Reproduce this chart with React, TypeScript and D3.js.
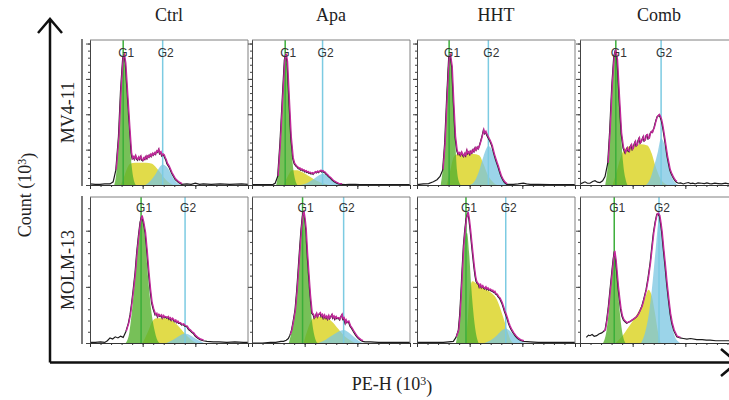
import React, { useEffect, useRef } from "react";
import * as d3 from "d3";

type Pt = [number, number];

// --- labels ---
const COLUMNS = ["Ctrl", "Apa", "HHT", "Comb"];
const ROWS = ["MV4-11", "MOLM-13"];

// G1 / G2 marker positions (PE-H channel units, 0-300)
const G1_MARK = [
  [63, 63, 61, 68],
  [97, 96, 93, 65],
];
const G2_MARK = [
  [138, 134, 135.5, 154],
  [180.5, 174, 168.5, 150],
];

// --- MV4-11 ---
const mv4CtrlHist: Pt[] = [[0,0.03],[10,0.02],[19,0.02],[28,0.03],[38,0.03],[44,0.09],[49,0.42],[54,1.36],[58,2.68],[62,3.58],[64.5,3.67],[67,3.44],[71,2.49],[75,1.55],[78,0.9],[80,0.74],[82,0.79],[84,0.72],[86,0.82],[88,0.74],[90,0.7],[92,0.78],[94,0.72],[96,0.8],[98,0.7],[100,0.68],[102,0.76],[104,0.72],[106,0.8],[108,0.74],[110,0.82],[112,0.78],[114,0.85],[116,0.8],[118,0.88],[120,0.84],[122,0.9],[124,0.86],[126,0.95],[128,0.92],[130,1.0],[132,0.88],[134,0.92],[136,0.82],[138,0.86],[140,0.84],[142,0.76],[144,0.7],[146,0.6],[149.5,0.52],[155,0.33],[161.5,0.16],[168,0.07],[174,0.02],[184,0.03],[192,0.02],[200,0.05],[208,0.02],[215,0.03],[230,0.02],[247,0.03],[265,0.02],[288,0.03],[300,0.02]];
const mv4CtrlG1: Pt[] = [[46,0],[50,0.35],[54,1.3],[58,2.6],[62,3.55],[64,3.65],[67,3.3],[71,2.3],[75,1.3],[79,0.55],[83,0.15],[87,0]];
const mv4CtrlS: Pt[] = [[58,0],[64,0.2],[70,0.45],[76,0.6],[86,0.63],[100,0.63],[112,0.62],[120,0.58],[128,0.45],[136,0.3],[144,0.15],[152,0.05],[158,0]];
const mv4CtrlG2: Pt[] = [[105,0],[115,0.12],[125,0.32],[132,0.5],[138,0.58],[145,0.52],[152,0.37],[158,0.2],[164,0.08],[170,0.02],[175,0]];

const mv4ApaHist: Pt[] = [[0,0.01],[15,0.01],[31,0.01],[40,0.02],[44,0.05],[48.7,0.24],[53,1.18],[57.6,2.49],[61.4,3.53],[64,3.7],[66.5,3.48],[69.7,2.49],[73.5,1.36],[77.3,0.75],[80,0.6],[82,0.56],[84,0.52],[86,0.5],[88,0.46],[90,0.47],[92,0.42],[94,0.44],[96,0.4],[98,0.41],[100,0.37],[102,0.39],[104,0.35],[106,0.36],[108,0.33],[110,0.34],[112,0.31],[114,0.33],[116,0.3],[118,0.34],[120,0.36],[122,0.34],[124,0.38],[126,0.35],[128,0.38],[130,0.4],[132,0.37],[134,0.39],[136,0.36],[138,0.35],[140,0.31],[142.5,0.28],[145,0.24],[149,0.19],[152,0.14],[156,0.09],[160,0.06],[164,0.03],[170,0.02],[177,0.01],[185,0.02],[196,0.02],[205,0.01],[215,0.01],[240,0.01],[270,0.01],[300,0.01]];
const mv4ApaG1: Pt[] = [[46,0],[50,0.4],[54,1.3],[58,2.6],[61,3.45],[63.5,3.7],[66.5,3.4],[70,2.4],[74,1.25],[78,0.5],[82,0.15],[86,0]];
const mv4ApaS: Pt[] = [[60,0],[68,0.25],[76,0.42],[86,0.42],[96,0.36],[106,0.27],[116,0.18],[126,0.1],[136,0.04],[146,0]];
const mv4ApaG2: Pt[] = [[92,0],[105,0.06],[118,0.18],[128,0.28],[134,0.32],[142,0.27],[150,0.17],[158,0.09],[166,0.04],[175,0]];

const mv4HhtHist: Pt[] = [[0,0.01],[12,0.03],[22,0.04],[31,0.09],[38,0.15],[43.7,0.24],[48.7,0.42],[52.5,1.18],[56.4,2.49],[60.2,3.62],[62.7,3.67],[65.9,3.34],[69,2.31],[72.2,1.36],[75.3,0.97],[78,0.86],[80,0.9],[82,0.83],[84,0.92],[86,0.85],[88,0.8],[90,0.88],[92,0.82],[94,0.97],[96,0.88],[98,0.93],[100,0.86],[102,0.95],[104,0.9],[106,0.99],[108,0.94],[110,1.04],[112,0.98],[114,1.06],[116,1.02],[118,1.1],[120,1.2],[122,1.3],[124,1.42],[126,1.55],[128,1.45],[130,1.5],[132,1.42],[134,1.36],[136,1.3],[138,1.25],[140,1.18],[142,1.1],[144,0.98],[146.3,0.85],[149,0.72],[151.4,0.61],[154,0.5],[156.4,0.38],[159,0.26],[162.8,0.14],[166,0.07],[170.4,0.02],[183,0.02],[192,0.03],[202,0.05],[208,0.03],[214.7,0.02],[230,0.02],[252.7,0.01],[290,0.01],[300,0.01]];
const mv4HhtG1: Pt[] = [[45,0],[49,0.45],[53,1.2],[56,2.4],[60,3.55],[62.5,3.65],[66,3.2],[69,2.2],[73,1.1],[76,0.4],[80,0.08],[83,0]];
const mv4HhtS: Pt[] = [[56,0],[63,0.4],[70,0.8],[78,0.88],[92,0.88],[106,0.88],[118,0.84],[126,0.6],[134,0.3],[142,0.12],[148,0.03],[152,0]];
const mv4HhtG2: Pt[] = [[100,0],[110,0.12],[118,0.4],[126,0.8],[135.5,1.1],[142,1.0],[148,0.75],[155,0.45],[162,0.18],[168,0.05],[173,0]];

const mv4CombHist: Pt[] = [[0,0.03],[5,0.06],[9.5,0.09],[14,0.05],[19,0.05],[24,0.1],[28.5,0.12],[33,0.08],[38,0.07],[43,0.12],[47.5,0.24],[52.6,0.61],[56.4,1.55],[60.2,2.78],[64,3.62],[67,3.81],[70.3,3.53],[74,2.49],[78,1.46],[81.7,1.04],[85.5,0.9],[87.5,0.98],[89.3,1.04],[91,0.96],[93,0.94],[95,1.08],[97,1.13],[99,1.0],[100.7,1.04],[102.5,1.15],[104.5,1.22],[106.5,1.1],[108.3,1.13],[110,1.25],[112,1.32],[114,1.18],[116,1.22],[118,1.3],[119.7,1.36],[121.5,1.24],[123.5,1.27],[125.5,1.4],[127.3,1.41],[129,1.3],[131,1.32],[133,1.45],[135,1.5],[137,1.48],[138.7,1.55],[140.5,1.62],[142.5,1.74],[144.5,1.85],[146.3,1.93],[148,1.95],[150,1.98],[152,1.92],[154,1.84],[156,1.7],[157.7,1.55],[159.5,1.38],[161.5,1.18],[163.5,0.98],[165.3,0.8],[168,0.6],[170.4,0.42],[173,0.32],[175.5,0.24],[178,0.17],[180.5,0.12],[183,0.08],[186.8,0.05],[191,0.06],[196.3,0.03],[200,0.05],[205.8,0.07],[210,0.04],[214,0.05],[218.5,0.03],[224,0.06],[231,0.05],[236,0.04],[241,0.06],[246,0.04],[250,0.03],[256,0.05],[262,0.04],[269,0.03],[276,0.05],[283,0.03],[292,0.04],[300,0.03]];
const mv4CombG1: Pt[] = [[48,0],[53,0.6],[57,1.6],[61,2.9],[65,3.6],[67,3.8],[70,3.5],[74,2.5],[78,1.4],[82,0.6],[86,0.2],[90,0]];
const mv4CombS: Pt[] = [[62,0],[70,0.4],[78,0.82],[88,1.05],[100,1.12],[115,1.15],[128,1.12],[136,0.9],[144,0.5],[152,0.2],[160,0.05],[166,0]];
const mv4CombG2: Pt[] = [[125,0],[134,0.2],[141,0.55],[148,0.95],[154,1.32],[160,1.15],[165,0.8],[170,0.42],[175,0.2],[180,0.08],[186,0]];

// --- MOLM-13 ---
const molmCtrlHist: Pt[] = [[0,0.01],[10,0.01],[20,0.02],[28,0.01],[33,0.04],[38,0.09],[43,0.07],[48,0.11],[53,0.09],[58,0.12],[63,0.1],[68,0.2],[72.8,0.35],[76,0.5],[79,0.71],[82,0.95],[85.5,1.25],[88.5,1.6],[91.8,1.9],[95,2.15],[98,2.26],[101,2.15],[104.5,1.96],[108,1.6],[111,1.25],[114,0.95],[117,0.71],[120,0.6],[123.5,0.5],[126,0.52],[128,0.46],[130,0.5],[133,0.47],[135,0.49],[137,0.44],[139,0.48],[141,0.45],[143,0.46],[146,0.44],[148,0.46],[150,0.42],[152,0.44],[154,0.4],[156,0.43],[158,0.41],[160,0.38],[162,0.4],[164,0.36],[166,0.38],[168,0.35],[171,0.35],[174,0.32],[177,0.33],[180,0.3],[183.7,0.29],[187,0.24],[190,0.22],[193,0.19],[196,0.17],[200,0.12],[204,0.09],[209,0.06],[215,0.04],[222,0.03],[234,0.02],[245,0.02],[260,0.01],[275,0.02],[291,0.01],[300,0.01]];
const molmCtrlG1: Pt[] = [[68,0],[75,0.2],[80,0.6],[86,1.2],[92,1.85],[98,2.2],[104,1.9],[110,1.2],[116,0.6],[122,0.25],[128,0.05],[132,0]];
const molmCtrlS: Pt[] = [[100,0],[110,0.2],[118,0.38],[126,0.44],[140,0.44],[155,0.4],[168,0.3],[180,0.17],[192,0.06],[202,0]];
const molmCtrlG2: Pt[] = [[145,0],[158,0.06],[170,0.13],[180,0.17],[190,0.14],[200,0.08],[210,0.03],[216,0]];

const molmApaHist: Pt[] = [[0,0],[20,0],[35,0.01],[45,0.01],[50,0.02],[55,0.03],[60,0.03],[65,0.05],[69,0.08],[72,0.14],[75,0.23],[78,0.38],[81.7,0.59],[85,0.95],[88,1.36],[90.5,1.7],[93,2.02],[95.5,2.25],[97.5,2.35],[100,2.2],[102,2.02],[104.5,1.6],[107,1.25],[110,0.85],[113.3,0.53],[116,0.5],[118,0.44],[120,0.47],[122,0.52],[124,0.46],[126,0.5],[129,0.53],[131,0.47],[133,0.5],[135,0.44],[137,0.49],[139,0.44],[141,0.47],[143,0.42],[145,0.48],[147,0.43],[149,0.46],[151.4,0.5],[153,0.44],[155,0.47],[157,0.42],[159,0.46],[161,0.43],[164,0.44],[166,0.41],[168,0.46],[170.4,0.5],[172,0.42],[174,0.44],[176.7,0.35],[178,0.4],[180,0.36],[183,0.38],[186,0.3],[189,0.26],[192.6,0.2],[196,0.15],[199,0.11],[202,0.08],[206,0.05],[210,0.03],[214.7,0.02],[225,0.02],[240,0.01],[260,0.01],[280,0.01],[300,0.01]];
const molmApaG1: Pt[] = [[70,0],[76,0.25],[82,0.65],[88,1.35],[93,2.0],[97,2.3],[101,2.0],[106,1.3],[111,0.65],[116,0.25],[121,0.05],[125,0]];
const molmApaS: Pt[] = [[98,0],[106,0.25],[114,0.42],[124,0.47],[140,0.45],[152,0.38],[164,0.25],[176,0.12],[188,0.04],[196,0]];
const molmApaG2: Pt[] = [[126,0],[140,0.06],[155,0.15],[174,0.23],[186,0.17],[196,0.09],[204,0.03],[210,0]];

const molmHhtHist: Pt[] = [[0,0.01],[20,0.01],[35,0.01],[50,0.01],[60,0.02],[69,0.03],[74,0.1],[78.5,0.23],[81,0.5],[83,0.83],[85.5,1.3],[88,1.72],[90.5,2.0],[93,2.2],[96.3,2.32],[98.5,2.2],[100.7,2.02],[103,1.8],[105.7,1.55],[108,1.35],[110.2,1.19],[112,1.1],[114,1.06],[116.5,1.04],[118,0.99],[120,1.03],[122,0.98],[124,1.01],[126,0.98],[128,0.96],[130,0.99],[132,0.95],[134,0.97],[136,0.94],[138.7,0.95],[141,0.92],[143,0.93],[145,0.9],[147,0.91],[149,0.87],[151.4,0.86],[154,0.82],[157,0.79],[160.9,0.71],[164,0.62],[166,0.56],[168.5,0.5],[171,0.43],[173.5,0.35],[176,0.29],[179,0.23],[183,0.17],[187,0.12],[191,0.08],[195.7,0.05],[202,0.03],[214.7,0.02],[230,0.01],[250,0.01],[275,0.01],[300,0.01]];
const molmHhtG1: Pt[] = [[74,0],[79,0.3],[84,0.9],[88,1.5],[92,1.92],[95,1.96],[99,1.6],[103,1.0],[108,0.45],[113,0.12],[117,0]];
const molmHhtS: Pt[] = [[93,0],[97,0.5],[101,1.0],[105,1.1],[115,1.04],[128,0.96],[140,0.9],[150,0.8],[158,0.62],[165,0.42],[172,0.2],[178,0.05],[182,0]];
const molmHhtG2: Pt[] = [[128,0],[140,0.05],[152,0.14],[162,0.23],[168.5,0.26],[176,0.22],[186,0.12],[196,0.04],[205,0]];

const molmCombHist: Pt[] = [[12,0.1],[16,0.14],[19,0.13],[23,0.15],[27,0.12],[31.7,0.13],[36,0.16],[41.2,0.18],[44,0.2],[47.5,0.23],[50.5,0.4],[53.8,0.65],[57,0.95],[60.2,1.25],[63,1.5],[65.2,1.63],[67.5,1.48],[69.7,1.25],[72,1.0],[74.7,0.77],[77,0.6],[79.5,0.48],[82.3,0.41],[85,0.38],[88.7,0.35],[92,0.37],[95,0.38],[98,0.4],[101,0.42],[104,0.44],[107.7,0.47],[111,0.52],[114,0.58],[117.2,0.65],[121,0.78],[125.4,0.95],[129,1.15],[133,1.42],[136,1.68],[139.3,1.96],[142.5,2.15],[145.7,2.29],[148,2.3],[150.7,2.26],[153,2.12],[155.2,1.96],[158,1.68],[161.5,1.36],[164.5,1.05],[167.8,0.77],[171,0.52],[174.2,0.35],[178,0.22],[183.7,0.11],[190,0.09],[196.3,0.08],[203,0.07],[210,0.08],[221.7,0.06],[232,0.06],[240,0.05],[247,0.05],[258,0.04],[272.3,0.04],[285,0.04],[300,0.04]];
const molmCombG1: Pt[] = [[44,0],[50,0.2],[55,0.6],[60,1.15],[65,1.6],[70,1.2],[75,0.6],[80,0.2],[86,0]];
const molmCombS: Pt[] = [[68,0],[80,0.12],[92,0.28],[104,0.45],[116,0.65],[124,0.82],[130,0.95],[136,0.85],[142,0.55],[148,0.2],[153,0]];
const molmCombG2: Pt[] = [[116,0],[124,0.2],[132,0.6],[138,1.1],[144,1.7],[150,2.2],[156,1.95],[162,1.4],[168,0.8],[174,0.35],[180,0.12],[186,0.03],[190,0]];

const HIST = [
  [mv4CtrlHist, mv4ApaHist, mv4HhtHist, mv4CombHist],
  [molmCtrlHist, molmApaHist, molmHhtHist, molmCombHist],
];
const G1 = [
  [mv4CtrlG1, mv4ApaG1, mv4HhtG1, mv4CombG1],
  [molmCtrlG1, molmApaG1, molmHhtG1, molmCombG1],
];
const SPH = [
  [mv4CtrlS, mv4ApaS, mv4HhtS, mv4CombS],
  [molmCtrlS, molmApaS, molmHhtS, molmCombS],
];
const G2 = [
  [mv4CtrlG2, mv4ApaG2, mv4HhtG2, mv4CombG2],
  [molmCtrlG2, molmApaG2, molmHhtG2, molmCombG2],
];

// layout
const W = 729;
const H = 400;
const PANEL_X = [90, 252, 417, 580];
const PANEL_W = 158;
const ROW_Y = [[40, 185], [197, 343]];
const Y_MAX = [4.1, 2.6];
const SERIF = "'Liberation Serif', 'Times New Roman', serif";
const SANS = "'Liberation Sans', Arial, sans-serif";

export default function App() {
  const ref = useRef<SVGSVGElement>(null);

  useEffect(() => {
    const svg = d3.select(ref.current);
    svg.selectAll("*").remove();

    ROWS.forEach((rowName, r) => {
      const [top, bottom] = ROW_Y[r];
      const y = d3.scaleLinear().domain([0, Y_MAX[r]]).range([bottom, top]);

      COLUMNS.forEach((colName, c) => {
        const left = PANEL_X[c];
        const x = d3.scaleLinear().domain([0, 300]).range([left, left + PANEL_W]);
        const g = svg.append("g");

        const area = d3.area<Pt>()
          .x(d => x(d[0]))
          .y0(y(0))
          .y1(d => y(d[1]))
          .curve(d3.curveMonotoneX);

        // fitted components
        g.append("path").attr("d", area(SPH[r][c])).attr("fill", "#e1db4a");
        g.append("path").attr("d", area(G2[r][c])).attr("fill", "#79c5e2").attr("fill-opacity", 0.75);
        g.append("path").attr("d", area(G1[r][c])).attr("fill", "#55b02e").attr("fill-opacity", 0.8);

        // G1 / G2 markers
        g.append("line")
          .attr("x1", x(G1_MARK[r][c])).attr("x2", x(G1_MARK[r][c]))
          .attr("y1", top).attr("y2", bottom)
          .attr("stroke", "#3cae3a").attr("stroke-width", 1.5);
        g.append("line")
          .attr("x1", x(G2_MARK[r][c])).attr("x2", x(G2_MARK[r][c]))
          .attr("y1", top).attr("y2", bottom)
          .attr("stroke", "#7ccbe2").attr("stroke-width", 1.5);

        // raw histogram + fit
        const line = d3.line<Pt>().x(d => x(d[0])).y(d => y(d[1]));
        g.append("path")
          .attr("d", line(HIST[r][c]))
          .attr("fill", "none").attr("stroke", "#1c1c1c").attr("stroke-width", 1.2);
        const lo = G1[r][c][0][0];
        const hi = G2[r][c][G2[r][c].length - 1][0];
        const fit = HIST[r][c].filter(d => d[0] >= lo && d[0] <= hi);
        g.append("path")
          .attr("d", line(fit))
          .attr("transform", "translate(0.5,-0.6)")
          .attr("fill", "none").attr("stroke", "#c2289b").attr("stroke-width", 1.4);

        // marker labels
        const lblY = r === 0 ? top + 17 : top + 15;
        [["G1", G1_MARK[r][c]], ["G2", G2_MARK[r][c]]].forEach(([t, v]) => {
          g.append("text")
            .attr("x", x(v as number) + 3).attr("y", lblY)
            .attr("text-anchor", "middle")
            .style("font-family", SANS).style("font-size", "12px").style("fill", "#333")
            .text(t as string);
        });

        // frame
        g.append("path")
          .attr("d", `M${left},${top}H${left + PANEL_W}V${bottom}`)
          .attr("fill", "none").attr("stroke", "#808080").attr("stroke-width", 1);

        const yMajor = d3.range(0, Y_MAX[r] + 0.001, 1);
        const yMinor = d3.range(0, Y_MAX[r], 0.2);
        const yAxis = g.append("g").attr("transform", `translate(${left},0)`);
        yAxis.call(d3.axisLeft(y).tickValues(yMinor).tickSize(2).tickSizeOuter(0).tickFormat(() => ""));
        yAxis.append("g").call(d3.axisLeft(y).tickValues(yMajor).tickSize(4).tickSizeOuter(0).tickFormat(() => ""));
        yAxis.selectAll("path,line").attr("stroke", "#444");

        const xAxis = g.append("g").attr("transform", `translate(0,${bottom})`);
        xAxis.call(d3.axisBottom(x).tickValues(d3.range(0, 301, 20)).tickSize(2).tickSizeOuter(0).tickFormat(() => ""));
        xAxis.append("g").call(d3.axisBottom(x).tickValues([0, 100, 200, 300]).tickSize(4).tickSizeOuter(0).tickFormat(() => ""));
        xAxis.selectAll("path,line").attr("stroke", "#333");

        // column titles (top row only)
        if (r === 0) {
          svg.append("text")
            .attr("x", left + PANEL_W / 2).attr("y", 21)
            .attr("text-anchor", "middle")
            .style("font-family", SERIF).style("font-size", "18px").style("fill", "#222")
            .text(colName);
        }
      });

      // row label + bracket line
      svg.append("line")
        .attr("x1", 82).attr("x2", 82).attr("y1", top - 1).attr("y2", bottom + 1)
        .attr("stroke", "#222").attr("stroke-width", 1.2);
      svg.append("text")
        .attr("transform", `translate(68,${(top + bottom) / 2}) rotate(-90)`)
        .attr("text-anchor", "middle").attr("dy", "0.35em")
        .style("font-family", SERIF).style("font-size", "18px").style("fill", "#222")
        .text(rowName);
    });

    // big outer axes with arrows
    svg.append("path")
      .attr("d", "M50,362.5V19M38,33L50,19L62,33M50,362.5H737M721,349L737,362.5L721,376")
      .attr("fill", "none").attr("stroke", "#111").attr("stroke-width", 2.5);

    const countLbl = svg.append("text")
      .attr("transform", "translate(25,195) rotate(-90)")
      .attr("text-anchor", "middle").attr("dy", "0.35em")
      .style("font-family", SERIF).style("font-size", "18px").style("fill", "#222");
    countLbl.append("tspan").text("Count (10");
    countLbl.append("tspan").attr("dy", "-0.45em").style("font-size", "12px").text("3");
    countLbl.append("tspan").attr("dy", "0.45em").text(")");

    const peLbl = svg.append("text")
      .attr("x", 392).attr("y", 390)
      .attr("text-anchor", "middle")
      .style("font-family", SERIF).style("font-size", "18px").style("fill", "#222");
    peLbl.append("tspan").text("PE-H (10");
    peLbl.append("tspan").attr("dy", "-0.45em").style("font-size", "12px").text("3");
    peLbl.append("tspan").attr("dy", "0.45em").text(")");
  }, []);

  return (
    <svg
      ref={ref}
      width={W}
      height={H}
      style={{ position: "absolute", left: 0, top: 0, background: "#fff" }}
    />
  );
}
